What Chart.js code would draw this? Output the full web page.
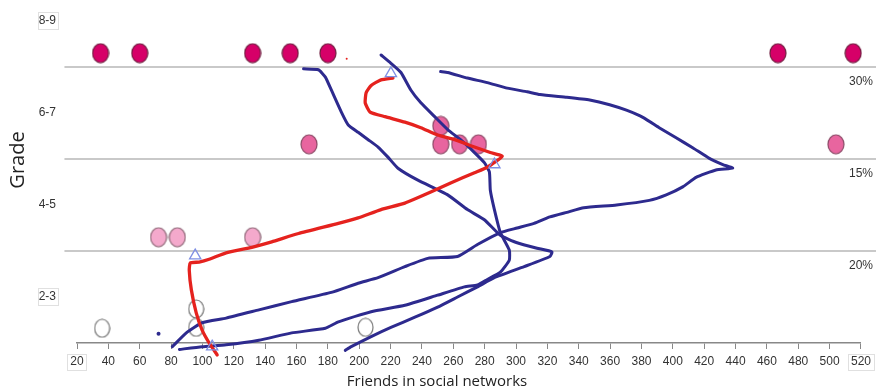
<!DOCTYPE html>
<html lang="en">
<head>
<meta charset="UTF-8">
<title>Friends in social networks by grade</title>
<script src="https://cdn.jsdelivr.net/npm/chart.js"></script>
<style>
  html, body { margin: 0; padding: 0; background: #fff; }
</style>
</head>
<body>
<canvas id="friendsChart" width="876" height="391"></canvas>
<script>
// grade bands (y = 0..1 is 2-3, 1..2 is 4-5, ...)
const gradeLabels = ['2-3', '4-5', '6-7', '8-9'];
const gradeTickPos = [0.5, 1.5, 2.5, 3.5];
const bandEdges = [1, 2, 3];
const bandShares = ['20%', '15%', '30%'];
const xTicks = [20, 520, 20]; // min, max, step

// survey dots [friends, position inside band]
const dots89 = [[35, 3.15], [60, 3.15], [132, 3.15], [156, 3.15], [180, 3.15], [467, 3.15], [515, 3.15]];
const dots67 = [[168, 2.16], [252, 2.16], [264, 2.16], [276, 2.16], [504, 2.16], [252, 2.36]];
const dots45 = [[72, 1.15], [84, 1.15], [132, 1.15]];
const dots23 = [[36, 0.16], [96, 0.37], [96, 0.17], [204, 0.17]];
const strayBlue = [[72, 0.10]];
const strayRed = [[192, 3.09]];

// hand drawn trajectories
const blueA = [[164.5, 2.98], [174, 2.97], [178.4, 2.89], [182.2, 2.75], [188.6, 2.51], [193, 2.37], [199.3, 2.29],
  [205.7, 2.21], [212, 2.13], [218.3, 2.02], [224.7, 1.9], [237.4, 1.77], [256.4, 1.61], [269, 1.45], [279.8, 1.34],
  [290, 1.17], [300.7, 1.09], [313.4, 1.03], [322.9, 0.99], [321.6, 0.94], [305.2, 0.83], [286.2, 0.71], [275.4, 0.61],
  [262.7, 0.5], [250, 0.39], [235.5, 0.28], [220.2, 0.17], [207.6, 0.07], [194.9, -0.04], [191.1, -0.08]];
const blueB = [[213.9, 3.13], [220.2, 3.04], [226.6, 2.94], [232.9, 2.75], [239.3, 2.61], [248.1, 2.46], [256.4, 2.32],
  [264.6, 2.21], [273.5, 2.07], [279.8, 1.96], [283, 1.86], [283.6, 1.66], [286.2, 1.45], [290, 1.2], [295.7, 1.01],
  [295.7, 0.9], [290, 0.77], [281.7, 0.69], [275.4, 0.63], [267.1, 0.61], [250, 0.52], [229.1, 0.41], [207.6, 0.34],
  [186.7, 0.23], [178.4, 0.16], [156.9, 0.11], [136, 0.03], [115.1, -0.02], [99.8, -0.04], [85.3, -0.07]];
const blueC = [[251.9, 2.95], [256.4, 2.94], [269, 2.88], [281.7, 2.83], [294.4, 2.77], [307.1, 2.73], [315.3, 2.7],
  [332.4, 2.67], [347, 2.64], [359.7, 2.59], [370.4, 2.53], [381.2, 2.45], [391.3, 2.34], [402.1, 2.23], [412.9, 2.12],
  [423, 2.01], [431.9, 1.94], [438.2, 1.9], [427.5, 1.88], [414.8, 1.8], [406.6, 1.7], [395.8, 1.61], [385, 1.55],
  [364.1, 1.5], [343.2, 1.47], [332.4, 1.42], [321.6, 1.37], [311.5, 1.3], [300.7, 1.25], [290, 1.2], [275.4, 1.07],
  [262.7, 0.94], [243.7, 0.92], [229.1, 0.83], [212, 0.71], [199.3, 0.65], [182.2, 0.55], [156.9, 0.45], [136, 0.36],
  [115.1, 0.27], [99.8, 0.22], [89.7, 0.11], [80.8, -0.04]];
const redPath = [[109.4, -0.13], [104.3, 0], [99.8, 0.14], [96, 0.33], [92.9, 0.58], [91.6, 0.79], [92.2, 0.87],
  [97.9, 0.88], [104.3, 0.91], [115.1, 0.98], [131.5, 1.04], [144.2, 1.1], [161.3, 1.19], [186.7, 1.3], [199.3, 1.36],
  [213.9, 1.45], [229.1, 1.52], [245.6, 1.64], [258.3, 1.74], [273.5, 1.85], [281.7, 1.91], [291.2, 2.03],
  [283.6, 2.07], [273.5, 2.13], [260.8, 2.21], [250, 2.26], [239.3, 2.34], [229.1, 2.4], [216.4, 2.46], [206.9, 2.51],
  [203.8, 2.61], [204.4, 2.72], [207.6, 2.8], [213.9, 2.86], [221.5, 2.88]];
const triangles = [[220.2, 2.93], [286.2, 1.94], [95.4, 0.95], [106.2, -0.04]];

const navy = '#2d2a8e';
const red = '#e5221e';

function ellipseMark(w, h, fill, stroke) {
  const c = document.createElement('canvas');
  c.width = w + 2; c.height = h + 2;
  const g = c.getContext('2d');
  g.beginPath();
  g.ellipse(c.width / 2, c.height / 2, w / 2, h / 2, 0, 0, Math.PI * 2);
  g.fillStyle = fill; g.fill();
  g.lineWidth = 1.2; g.strokeStyle = stroke; g.stroke();
  return c;
}

const pts = arr => arr.map(p => ({ x: p[0], y: p[1] }));

function pathSet(data, color, width, order) {
  return {
    type: 'line', data: pts(data), borderColor: color, borderWidth: width,
    pointRadius: 0, tension: 0.15, clip: false, order: order,
    borderCapStyle: 'round', borderJoinStyle: 'round'
  };
}

function dotSet(data, mark) {
  return { type: 'scatter', data: pts(data), pointStyle: mark, pointRadius: 9, clip: false, order: 5 };
}

const axisFont = "'Liberation Sans Narrow', 'Liberation Sans', sans-serif";

const bandPlugin = {
  id: 'bands',
  beforeDatasetsDraw(chart) {
    const { ctx, scales: { x, y } } = chart;
    ctx.save();
    ctx.strokeStyle = '#c9c9c9';
    ctx.lineWidth = 2;
    ctx.fillStyle = '#333';
    ctx.font = '12px ' + axisFont;
    ctx.textAlign = 'right';
    ctx.textBaseline = 'middle';
    bandEdges.forEach((v, i) => {
      const py = y.getPixelForValue(v);
      ctx.beginPath();
      ctx.moveTo(x.getPixelForValue(12), py);
      ctx.lineTo(chart.width, py);
      ctx.stroke();
      ctx.fillText(bandShares[i], chart.width - 3, py + 15);
    });
    ctx.restore();
  },
  afterDraw(chart) {
    const { ctx, scales: { x, y } } = chart;
    ctx.save();
    // faint boxes round the outer labels
    ctx.strokeStyle = '#e0e0e0';
    ctx.lineWidth = 1;
    ctx.font = '12px ' + axisFont;
    [3.5, 0.5].forEach(v => {
      const py = y.getPixelForValue(v);
      ctx.strokeRect(38.5, Math.round(py) - 8.5, 20, 17);
    });
    [xTicks[0], xTicks[1]].forEach(v => {
      const px = x.getPixelForValue(v);
      const w = ctx.measureText(String(v)).width + 6;
      ctx.strokeRect(Math.round(px - w / 2) + 0.5, 354.5, Math.round(w), 16);
    });
    // axis titles
    ctx.fillStyle = '#222';
    ctx.textAlign = 'center';
    ctx.textBaseline = 'middle';
    ctx.font = "15px 'Open Sans', sans-serif";
    ctx.fillText('Friends in social networks', 437, 382);
    ctx.translate(18, 160);
    ctx.rotate(-Math.PI / 2);
    ctx.font = "20px 'Open Sans', sans-serif";
    ctx.fillText('Grade', 0, 0);
    ctx.restore();
  }
};

const ctx = document.getElementById('friendsChart').getContext('2d');
new Chart(ctx, {
  data: {
    datasets: [
      dotSet(dots89, ellipseMark(16, 19, '#d60068', '#6e1c3e')),
      dotSet(dots67, ellipseMark(16, 19, '#e8659f', '#8a4a66')),
      dotSet(dots45, ellipseMark(16, 19, '#f4a9cc', '#8f6878')),
      dotSet(dots23, ellipseMark(15, 18, '#ffffff', '#777777')),
      { type: 'scatter', data: pts(strayBlue), pointRadius: 2, backgroundColor: navy, borderWidth: 0, order: 4 },
      { type: 'scatter', data: pts(strayRed), pointRadius: 1, backgroundColor: red, borderWidth: 0, order: 4 },
      pathSet(blueA, navy, 3, 3),
      pathSet(blueB, navy, 3, 3),
      pathSet(blueC, navy, 3, 3),
      pathSet(redPath, red, 3.3, 2),
      {
        type: 'scatter', data: pts(triangles), pointStyle: 'triangle', pointRadius: 6.5,
        borderColor: '#7f8fe4', borderWidth: 1.3, backgroundColor: 'rgba(255,255,255,0)', clip: false, order: 1
      }
    ]
  },
  options: {
    responsive: false,
    animation: false,
    layout: { autoPadding: false, padding: { top: 0, right: 10, bottom: 0, left: 0 } },
    plugins: { legend: { display: false }, tooltip: { enabled: false } },
    scales: {
      x: {
        type: 'linear', min: xTicks[0], max: xTicks[1],
        ticks: { stepSize: xTicks[2], autoSkip: false, maxRotation: 0, padding: 5, color: '#333', font: { size: 12, family: axisFont } },
        grid: { drawOnChartArea: false, drawTicks: true, tickLength: 6, color: '#888' },
        border: { color: '#888', width: 1.5 },
        afterFit: s => { s.height = 48; }
      },
      y: {
        type: 'linear', min: 0, max: 3.728,
        afterBuildTicks: s => { s.ticks = gradeTickPos.map(v => ({ value: v })); },
        ticks: { padding: 21, color: '#333', font: { size: 12, family: axisFont }, callback: (v, i) => gradeLabels[i] },
        grid: { display: false, drawTicks: false },
        border: { display: false },
        afterFit: s => { s.width = 77; s.paddingTop = 0; s.paddingBottom = 0; }
      }
    }
  },
  plugins: [bandPlugin]
});
</script>
</body>
</html>
